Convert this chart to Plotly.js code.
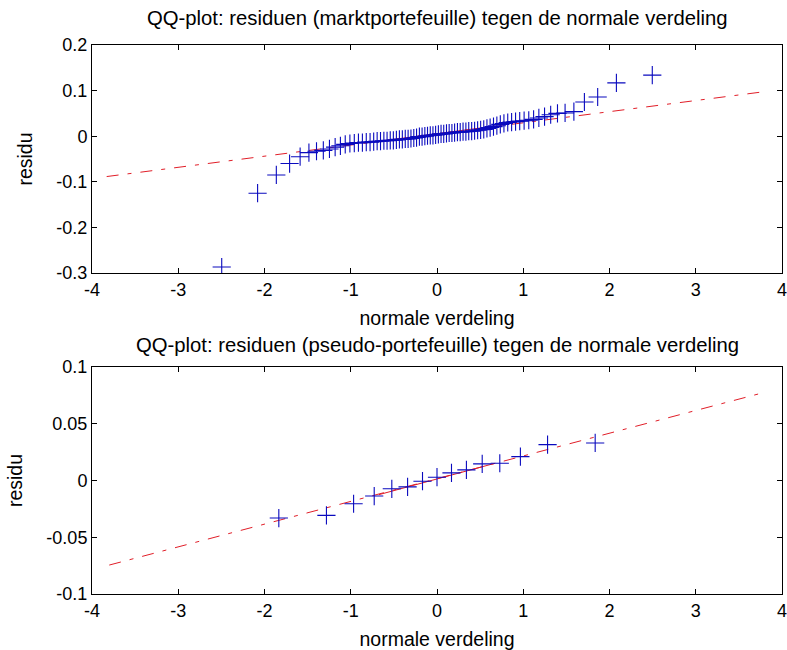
<!DOCTYPE html>
<html>
<head>
<meta charset="utf-8">
<script src="https://cdn.plot.ly/plotly-3.0.1.min.js"></script>
<style>
  html, body { margin: 0; padding: 0; background: #ffffff; }
  #chart { width: 787px; height: 650px; }
</style>
</head>
<body>
<div id="chart"></div>
<script>
// Theoretical normal quantiles (n = 80) and sorted residuals, market portfolio
const marketQuantiles = [
  -2.496, -2.080, -1.863, -1.709, -1.587, -1.485, -1.397, -1.318, -1.247, -1.181,
  -1.120, -1.064, -1.010, -0.959, -0.911, -0.865, -0.820, -0.776, -0.734, -0.694,
  -0.655, -0.616, -0.579, -0.542, -0.506, -0.471, -0.436, -0.402, -0.368, -0.335,
  -0.302, -0.269, -0.237, -0.204, -0.173, -0.141, -0.110, -0.078, -0.047, -0.016,
   0.016,  0.047,  0.078,  0.110,  0.141,  0.173,  0.204,  0.237,  0.269,  0.302,
   0.335,  0.368,  0.402,  0.436,  0.471,  0.506,  0.542,  0.579,  0.616,  0.655,
   0.694,  0.734,  0.776,  0.820,  0.865,  0.911,  0.959,  1.010,  1.064,  1.120,
   1.181,  1.247,  1.318,  1.397,  1.485,  1.587,  1.709,  1.863,  2.080,  2.496
];
const marketResiduals = [
  -0.287, -0.125, -0.085, -0.060, -0.045, -0.036, -0.033, -0.031, -0.028, -0.024,
  -0.021, -0.018, -0.016, -0.015, -0.014, -0.014, -0.013, -0.013, -0.012, -0.011,
  -0.011, -0.010, -0.010, -0.009, -0.009, -0.008, -0.007, -0.007, -0.006, -0.006,
  -0.005, -0.004, -0.003, -0.001, -0.001,  0.000,  0.001,  0.002,  0.002,  0.003,
   0.004,  0.005,  0.005,  0.006,  0.007,  0.007,  0.008,  0.009,  0.009,  0.010,
   0.010,  0.011,  0.011,  0.012,  0.013,  0.014,  0.015,  0.017,  0.019,  0.021,
   0.023,  0.026,  0.028,  0.030,  0.031,  0.032,  0.033,  0.034,  0.035,  0.037,
   0.040,  0.043,  0.047,  0.050,  0.051,  0.054,  0.075,  0.086,  0.117,  0.134
];
// Reference line: solid between the quartiles, dash-dot extension
const marketQuartileX = [-0.6745, 0.6745];
const marketQuartileY = [-0.0112, 0.0222];
const marketRefX = [-3.83, 3.74];
const marketRefY = [-0.0885, 0.0963];

// Theoretical normal quantiles (n = 15) and sorted residuals, pseudo portfolio
const pseudoQuantiles = [
  -1.834, -1.282, -0.967, -0.728, -0.524, -0.341, -0.168, 0.000,
   0.168,  0.341,  0.524,  0.728,  0.967,  1.282,  1.834
];
const pseudoResiduals = [
  -0.0331, -0.0307, -0.0205, -0.0137, -0.0073, -0.0056, -0.0006, 0.0029,
   0.0067,  0.0094,  0.0146,  0.0152,  0.0210,  0.0316,  0.0331
];
const pseudoQuartileX = [-0.6745, 0.6745];
const pseudoQuartileY = [-0.0125, 0.0152];
const pseudoRefX = [-3.80, 3.76];
const pseudoRefY = [-0.0745, 0.0769];

// Tick labels
const xTickVals = [-4, -3, -2, -1, 0, 1, 2, 3, 4];
const xTickText = ['-4', '-3', '-2', '-1', '0', '1', '2', '3', '4'];
const yTopVals = [-0.3, -0.2, -0.1, 0, 0.1, 0.2];
const yTopText = ['-0.3', '-0.2', '-0.1', '0', '0.1', '0.2'];
const yBotVals = [-0.1, -0.05, 0, 0.05, 0.1];
const yBotText = ['-0.1', '-0.05', '0', '0.05', '0.1'];

const titleTop = 'QQ-plot: residuen (marktportefeuille) tegen de normale verdeling';
const titleBottom = 'QQ-plot: residuen (pseudo-portefeuille) tegen de normale verdeling';
const xLabel = 'normale verdeling';
const yLabel = 'residu';

const FONT = '"Liberation Sans", Arial, sans-serif';
const RED = 'rgb(225,30,40)';
const BLUE = 'rgb(10,10,190)';
const DASHDOT = '12px,9px,4px,9px';

function refTraces(xr, yr, xq, yq, xa, ya) {
  return [
    { x: xr, y: yr, xaxis: xa, yaxis: ya, type: 'scatter', mode: 'lines',
      line: { color: RED, width: 1, dash: DASHDOT }, hoverinfo: 'skip' },
    { x: xq, y: yq, xaxis: xa, yaxis: ya, type: 'scatter', mode: 'lines',
      line: { color: RED, width: 1 }, hoverinfo: 'skip' }
  ];
}

function pointTrace(xs, ys, xa, ya) {
  return {
    x: xs, y: ys, xaxis: xa, yaxis: ya, type: 'scatter', mode: 'markers',
    marker: { symbol: 'cross-thin', size: 13, color: BLUE,
              line: { color: BLUE, width: 1.1 } }
  };
}

const data = [
  ...refTraces(marketRefX, marketRefY, marketQuartileX, marketQuartileY, 'x', 'y'),
  pointTrace(marketQuantiles, marketResiduals, 'x', 'y'),
  ...refTraces(pseudoRefX, pseudoRefY, pseudoQuartileX, pseudoQuartileY, 'x2', 'y2'),
  pointTrace(pseudoQuantiles, pseudoResiduals, 'x2', 'y2')
];

function xAxis(anchor) {
  return {
    anchor: anchor, domain: [0, 1], range: [-4, 4],
    tickmode: 'array', tickvals: xTickVals, ticktext: xTickText,
    ticks: 'inside', ticklen: 5, tickwidth: 1, tickcolor: '#000',
    showline: true, linecolor: '#000', linewidth: 1, mirror: 'ticks',
    showgrid: false, zeroline: false, automargin: false,
    ticklabeloverflow: 'allow',
    tickfont: { family: FONT, size: 18, color: '#000' },
    title: { text: xLabel, font: { family: FONT, size: 19.5, color: '#000' }, standoff: 12 }
  };
}

function yAxis(anchor, domain, range, vals, text) {
  return {
    anchor: anchor, domain: domain, range: range,
    tickmode: 'array', tickvals: vals, ticktext: text,
    ticks: 'inside', ticklen: 5, tickwidth: 1, tickcolor: '#000',
    showline: true, linecolor: '#000', linewidth: 1, mirror: 'ticks',
    showgrid: false, zeroline: false, automargin: false,
    tickfont: { family: FONT, size: 18, color: '#000' },
    title: { text: yLabel, font: { family: FONT, size: 19.5, color: '#000' }, standoff: 18 }
  };
}

const layout = {
  width: 787, height: 650,
  margin: { l: 92, r: 5, t: 45, b: 56 },
  paper_bgcolor: '#ffffff', plot_bgcolor: '#ffffff',
  showlegend: false,
  font: { family: FONT, color: '#000' },
  xaxis: xAxis('y'),
  yaxis: yAxis('x', [0.5847, 1], [-0.3, 0.2], yTopVals, yTopText),
  xaxis2: xAxis('y2'),
  yaxis2: yAxis('x2', [0, 0.4135], [-0.1, 0.1], yBotVals, yBotText),
  annotations: [
    { text: titleTop, xref: 'x domain', yref: 'y domain', x: 0.5, y: 1.1184,
      xanchor: 'center', yanchor: 'middle', showarrow: false,
      font: { family: FONT, size: 20.3, color: '#000' } },
    { text: titleBottom, xref: 'x2 domain', yref: 'y2 domain', x: 0.5, y: 1.0969,
      xanchor: 'center', yanchor: 'middle', showarrow: false,
      font: { family: FONT, size: 20.3, color: '#000' } }
  ]
};

Plotly.newPlot('chart', data, layout, { staticPlot: true, displayModeBar: false });
</script>
</body>
</html>
